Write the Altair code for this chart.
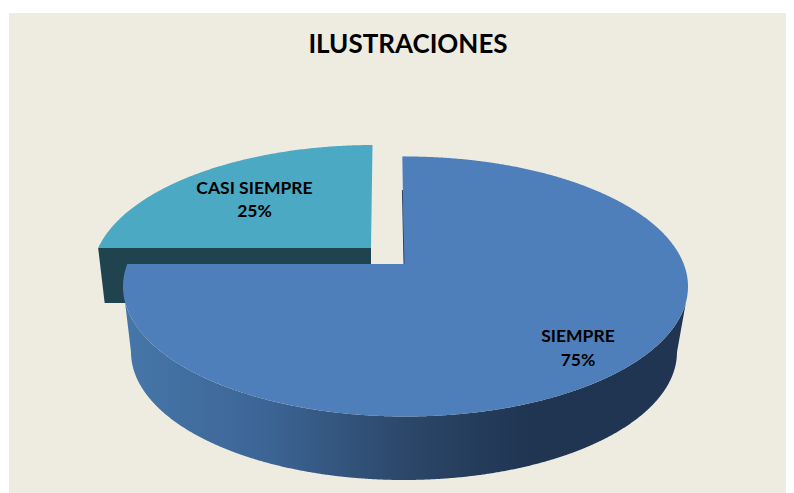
import numpy as np
import pandas as pd
import altair as alt

categories = ["SIEMPRE", "CASI SIEMPRE"]
shares = [75, 25]
title_text = "ILUSTRACIONES"

# Layout of the tilted pie, in page pixels
BLUE = dict(cx=405.5, cy=286.5, a=282.5, b=130.0, persp=10.0)
TEAL = dict(cx=374.0, cy=275.0, a=282.0, b=130.0, persp=12.0)
WALL = dict(cx=404.0, cy=352.0, a=273.0, b=128.0)
APEX_X = 404.0
TOP_X = 402.3
PAGE_R, PAGE_B = 786, 493

t = np.radians(np.linspace(0, 180, 721))
x_scale = alt.Scale(domain=[8, PAGE_R], nice=False, zero=False)
y_scale = alt.Scale(domain=[PAGE_B, 8], nice=False, zero=False)
X = alt.X("x:Q", scale=x_scale, axis=None)
Y = alt.Y("y:Q", scale=y_scale, axis=None)


def upper(p, x):
    return p["cy"] - p["b"] * np.sqrt(np.clip(1 - ((x - p["cx"]) / p["a"]) ** 2, 0, 1))


def lower(p, x):
    return p["cy"] + p["b"] * np.sqrt(np.clip(1 - ((x - p["cx"]) / p["a"]) ** 2, 0, 1))


# Blue slice: sweep derived from its share
end_blue = np.radians(90 - shares[0] * 3.6 - BLUE["persp"])
apex_y = BLUE["cy"] - BLUE["b"] * np.sin(end_blue)
xs = np.sort(np.r_[BLUE["cx"] + BLUE["a"] * np.cos(t), APEX_X - 0.01, APEX_X])
top = upper(BLUE, xs)
top = np.where(xs < APEX_X, np.maximum(top, apex_y), top)
blue_top = pd.DataFrame({"x": xs, "y": top, "y2": lower(BLUE, xs)})

# Sliver between the leaning radial edge and the main area
ys = np.linspace(upper(BLUE, np.array([TOP_X]))[0], apex_y, 40)
blue_edge = pd.DataFrame({
    "y": ys,
    "x": TOP_X + (APEX_X - TOP_X) * (ys - ys[0]) / (ys[-1] - ys[0]),
    "x2": APEX_X + 1,
})

# Outer wall of the blue slice
xw = np.sort(BLUE["cx"] + 280.5 * np.cos(t))
wall_left, wall_right = WALL["cx"] - WALL["a"], WALL["cx"] + WALL["a"]
bottom = lower(WALL, xw)
yl, yr = lower(BLUE, np.array([xw[0], xw[-1]]))
bottom = np.where(xw < wall_left, np.interp(xw, [xw[0], wall_left], [yl, WALL["cy"]]), bottom)
bottom = np.where(xw > wall_right, np.interp(xw, [wall_right, xw[-1]], [WALL["cy"], yr]), bottom)
blue_wall = pd.DataFrame({"x": xw, "y": lower(BLUE, xw), "y2": bottom})

# Teal slice
end_teal = np.radians(90 + shares[1] * 3.6 - TEAL["persp"])
teal_y = TEAL["cy"] - TEAL["b"] * np.sin(end_teal)
teal_x = TEAL["cx"] + TEAL["a"] * np.cos(end_teal)
tt = np.radians(np.linspace(90, 90 + shares[1] * 3.6 - TEAL["persp"], 200))
xt = np.sort(TEAL["cx"] + TEAL["a"] * np.cos(tt))
xt = np.r_[xt[xt < 371], 371, 372.5]
ty = upper(TEAL, xt)
by = np.where(xt <= 371, teal_y, ty)
teal_top = pd.DataFrame({"x": xt, "y": ty, "y2": by})

xd = np.r_[teal_x, teal_x + 6.5, 371]
teal_wall = pd.DataFrame({"x": xd, "y": [teal_y] * 3, "y2": [teal_y, 303, 303]})

frame = pd.DataFrame({"x": [9], "x2": [PAGE_R], "y": [13], "y2": [PAGE_B]})
titles = pd.DataFrame({"x": [408], "y": [45], "t": [title_text]})
labels = pd.DataFrame({
    "x": [578, 254.5],
    "y": [337, 188.5],
    "t": [f"{c}\n{s}%" for c, s in zip(categories, shares)],
})
seam = pd.DataFrame({"x": [TOP_X + 0.1, APEX_X], "y": [190, apex_y]})

bg = alt.Chart(frame).mark_rect(color="#EEECE1").encode(x=X, x2="x2:Q", y=Y, y2="y2:Q")
t_wall = alt.Chart(teal_wall).mark_area(color="#1F4450").encode(x=X, y=Y, y2="y2:Q")
t_top = alt.Chart(teal_top).mark_area(color="#4BA9C4").encode(x=X, y=Y, y2="y2:Q")
gradient = alt.Gradient(
    gradient="linear", x1=0, x2=1, y1=0, y2=0,
    stops=[
        alt.GradientStop(color="#4676A9", offset=0),
        alt.GradientStop(color="#3C6595", offset=0.25),
        alt.GradientStop(color="#2C4769", offset=0.5),
        alt.GradientStop(color="#1F3552", offset=0.72),
        alt.GradientStop(color="#1F3552", offset=1),
    ],
)
b_wall = alt.Chart(blue_wall).mark_area(fill=gradient).encode(x=X, y=Y, y2="y2:Q")
b_top = alt.Chart(blue_top).mark_area(color="#4F7FBB").encode(x=X, y=Y, y2="y2:Q")
b_edge = alt.Chart(blue_edge).mark_area(color="#4F7FBB", orient="horizontal").encode(
    y=Y, x=X, x2="x2:Q"
)
b_seam = alt.Chart(seam).mark_line(color="#2A4565", strokeWidth=1).encode(
    x=X, y=alt.Y("y:Q", scale=y_scale, axis=None), order=alt.Order("y:Q")
)
title_mark = alt.Chart(titles).mark_text(
    font="Lato", fontWeight="bold", fontSize=26, color="#000000", align="center", baseline="middle"
).encode(x=X, y=Y, text="t:N")
label_mark = alt.Chart(labels).mark_text(
    font="Lato", fontWeight="bold", fontSize=17.5, color="#000000", align="center",
    baseline="middle", lineBreak="\n", lineHeight=23.5,
).encode(x=X, y=Y, text="t:N")

chart = alt.layer(
    bg, t_wall, t_top, b_wall, b_top, b_edge, b_seam, title_mark, label_mark
).properties(
    width=778, height=485, padding=0, autosize="none", background="white"
).configure_view(stroke=None)

chart.save("out.html", embed_options={"renderer": "svg", "actions": False})
